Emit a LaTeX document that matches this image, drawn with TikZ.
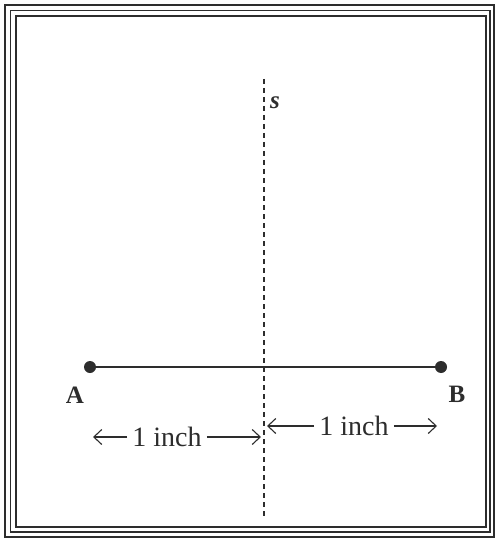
\documentclass[tikz,border=0pt]{standalone}
\usepackage{fontspec}
\setmainfont{Liberation Serif}
\usetikzlibrary{arrows.meta}
\definecolor{ink}{RGB}{45,45,45}
\begin{document}
\begin{tikzpicture}[x=1pt,y=-1pt,
  frame/.style={draw=ink,line width=1.5pt},
  dot/.style={circle,fill=ink,inner sep=0pt,minimum size=12pt},
  lbl/.style={text=ink,font=\fontsize{25}{27}\selectfont\bfseries,inner sep=0pt},
  meas/.style={text=ink,font=\fontsize{28}{30}\selectfont,inner sep=0pt},
  marr/.style={draw=ink,line width=1.1pt,-{Straight Barb[length=8pt,width=15pt,line width=1.1pt]}}]
\useasboundingbox (0,0) rectangle (499,540);
\fill[white] (0,0) rectangle (499,540);
% triple frame
\draw[frame] (5,5) rectangle (494,537);
\draw[frame] (10.5,10.5) rectangle (490,532);
\draw[frame] (16,16) rectangle (486,527);
% dashed axis
\coordinate (st) at (264,79);
\coordinate (sb) at (264,516);
\draw[ink,line width=1.3pt,dash pattern=on 5pt off 4pt] (st) -- (sb);
\node[text=ink,font=\fontsize{25}{27}\selectfont\bfseries\itshape,inner sep=0pt] (s) at (275,103) {s};
% segment
\node[dot] (A) at (90,367) {};
\node[dot] (B) at (441,367) {};
\draw[ink,line width=1.8pt] (A) -- (B);
\node[lbl] (la) at (75,395) {A};
\node[lbl] (lb) at (457,394) {B};
% measurements
\node[meas] (m1) at (167,437) {1 inch};
\coordinate (m1l) at (93,437);
\coordinate (m1r) at (261,437);
\draw[marr] (m1.west) ++(-5,0) -- (m1l);
\draw[marr] (m1.east) ++(5,0) -- (m1r);
\node[meas] (m2) at (354,426) {1 inch};
\coordinate (m2l) at (267,426);
\coordinate (m2r) at (437,426);
\draw[marr] (m2.west) ++(-5,0) -- (m2l);
\draw[marr] (m2.east) ++(5,0) -- (m2r);
\end{tikzpicture}
\end{document}
